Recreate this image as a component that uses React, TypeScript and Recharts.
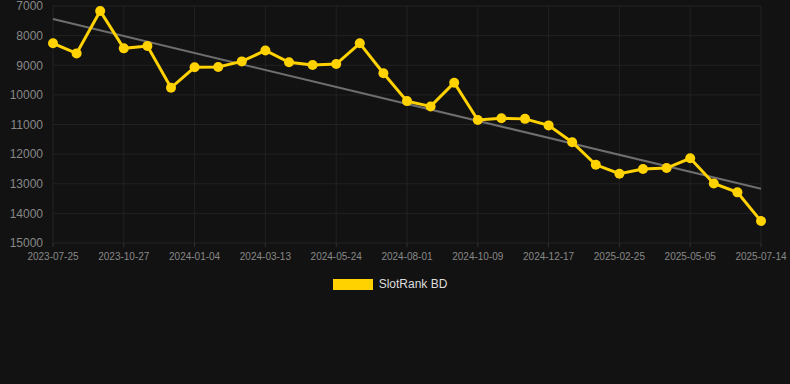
import { LineChart, Line, XAxis, YAxis, CartesianGrid, Legend } from "recharts";

const dates = [
  "2023-07-25", "2023-08-26", "2023-09-27", "2023-10-27", "2023-11-19", "2023-12-12",
  "2024-01-04", "2024-01-27", "2024-02-19", "2024-03-13", "2024-04-06", "2024-04-30",
  "2024-05-24", "2024-06-16", "2024-07-09", "2024-08-01", "2024-08-24", "2024-09-16",
  "2024-10-09", "2024-11-01", "2024-11-24", "2024-12-17", "2025-01-09", "2025-02-01",
  "2025-02-25", "2025-03-20", "2025-04-12", "2025-05-05", "2025-05-28", "2025-06-21",
  "2025-07-14",
];

const ranks = [
  8260, 8600, 7170, 8430, 8350, 9760, 9070, 9060, 8870, 8500, 8900, 8990, 8960, 8260,
  9270, 10210, 10390, 9590, 10850, 10790, 10810, 11030, 11600, 12360, 12660, 12500,
  12470, 12140, 12990, 13290, 14260,
];

// trend line end values
const trendStart = 7440;
const trendEnd = 13170;

const yTicks = [7000, 8000, 9000, 10000, 11000, 12000, 13000, 14000, 15000];

const data = dates.map((d, i) => ({
  date: d,
  rank: ranks[i],
  trend: i === 0 ? trendStart : i === dates.length - 1 ? trendEnd : null,
}));

const font = "Arial, 'Liberation Sans', sans-serif";

const LegendBox = () => (
  <div style={{ display: "flex", justifyContent: "center", alignItems: "center", fontFamily: font }}>
    <span style={{ display: "inline-block", width: 40, height: 11, background: "#ffd200", marginRight: 6 }} />
    <span style={{ color: "#dddddd", fontSize: 12 }}>SlotRank BD</span>
  </div>
);

export default function App() {
  return (
    <div style={{ position: "absolute", left: 0, top: 0, width: 790, height: 384, background: "#121212" }}>
      <LineChart width={790} height={384} data={data} margin={{ top: 6, right: 29, left: 0, bottom: 111 }}>
        <CartesianGrid stroke="#222222" strokeWidth={1} />
        <XAxis
          dataKey="date"
          interval={2}
          height={30}
          axisLine={false}
          tickLine={{ stroke: "#333" }}
          tickSize={4}
          tickMargin={6}
          tick={{ fill: "#888888", fontSize: 10, fontFamily: font }}
        />
        <YAxis
          reversed
          domain={[7000, 15000]}
          ticks={yTicks}
          interval={0}
          width={53}
          axisLine={false}
          tickLine={false}
          tickMargin={4}
          tick={{ fill: "#888888", fontSize: 12, fontFamily: font }}
        />
        <Line
          dataKey="trend"
          connectNulls
          stroke="#6e6e6e"
          strokeWidth={2}
          dot={false}
          activeDot={false}
          isAnimationActive={false}
          legendType="none"
        />
        <Line
          dataKey="rank"
          name="SlotRank BD"
          stroke="#ffd200"
          strokeWidth={3}
          dot={{ r: 5, fill: "#ffd200", stroke: "#ffd200", strokeWidth: 0 }}
          isAnimationActive={false}
        />
        <Legend
          layout="horizontal"
          verticalAlign="middle"
          align="center"
          content={() => <LegendBox />}
          wrapperStyle={{ top: 277, left: 0, width: 780 }}
        />
      </LineChart>
    </div>
  );
}
